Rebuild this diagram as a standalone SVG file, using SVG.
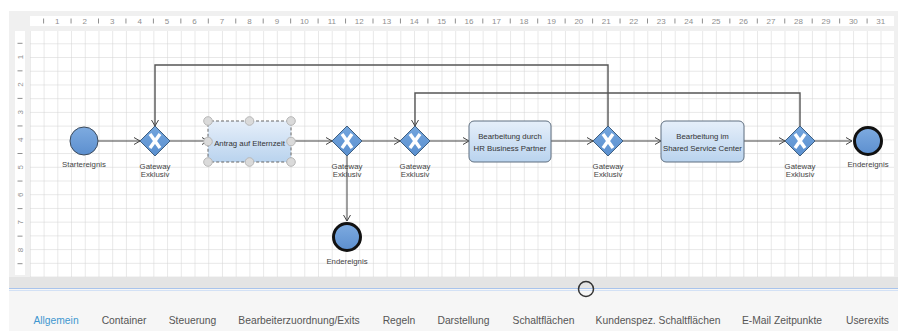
<svg xmlns="http://www.w3.org/2000/svg" width="898" height="331" viewBox="0 0 898 331">
<style>
text{font-family:"Liberation Sans",Arial,sans-serif}
.rl{font-size:8px;fill:#8f8f8f;text-anchor:middle}
.tick{stroke:#8f8f8f;stroke-width:1}
.lbl{font-size:7.8px;fill:#444;text-anchor:middle}
.tk{font-size:7.8px;fill:#333;text-anchor:middle}
.tab{font-size:10.3px;fill:#555;text-anchor:middle}
.flow{fill:none;stroke:#444;stroke-width:1;marker-end:url(#arr)}
.loop{fill:none;stroke:#555;stroke-width:1.4;marker-end:url(#arr)}
.gw{fill:url(#gwg);stroke:#3f5f80;stroke-width:1}
.gx{stroke:#fff;stroke-width:3.4;stroke-linecap:butt}
.task{fill:url(#tg);stroke:#5f6f80;stroke-width:1}
.hd{fill:#dadada;stroke:#b8b8b8;stroke-width:1}
</style>
<defs>
<pattern id="grid" patternUnits="userSpaceOnUse" x="29.88" y="29.58" width="13.72" height="13.72">
<path d="M0,0 V13.72 M0,0 H13.72" stroke="#d2d2d2" stroke-width="1" fill="none"/>
</pattern>
<linearGradient id="cg" x1="0" y1="0" x2="0" y2="1">
<stop offset="0" stop-color="#7eabe0"/><stop offset="1" stop-color="#5c8fcf"/>
</linearGradient>
<linearGradient id="gwg" x1="0" y1="0" x2="0" y2="1">
<stop offset="0" stop-color="#74a6de"/><stop offset="1" stop-color="#5a8fcf"/>
</linearGradient>
<linearGradient id="tg" x1="0" y1="0" x2="0" y2="1">
<stop offset="0" stop-color="#e6effa"/><stop offset="1" stop-color="#b9d3ee"/>
</linearGradient>
<marker id="arr" markerUnits="userSpaceOnUse" markerWidth="9" markerHeight="9" refX="7" refY="4" orient="auto">
<path d="M1,0.5 L7,4 L1,7.5" fill="none" stroke="#444" stroke-width="1"/>
</marker>
</defs>

<!-- frame -->
<rect x="9" y="11" width="889" height="266" fill="#f0f0f0"/>
<rect x="30" y="16" width="864" height="10" fill="#ffffff"/>
<rect x="15" y="31" width="10" height="244" fill="#ffffff"/>
<rect x="30" y="31" width="864" height="246" fill="#ffffff"/>
<rect x="30" y="31" width="864" height="246" fill="url(#grid)"/>
<rect x="9" y="277" width="889" height="11" fill="#e4e4e4"/>
<rect x="9" y="288" width="889" height="43" fill="#f6f6f6"/>
<line x1="9" y1="288.5" x2="898" y2="288.5" stroke="#a9c4ec" stroke-width="1"/>
<line x1="9" y1="290.5" x2="898" y2="290.5" stroke="#d3e1f5" stroke-width="1"/>
<circle cx="586" cy="289" r="7.5" fill="none" stroke="#333" stroke-width="1.5"/>

<!-- top ruler -->
<g id="ruler-top">
<path class="tick" d="M43.6,18.5v5 M71.05,18.5v5 M98.5,18.5v5 M125.95,18.5v5 M153.4,18.5v5 M180.85,18.5v5 M208.3,18.5v5 M235.75,18.5v5 M263.2,18.5v5 M290.65,18.5v5 M318.1,18.5v5 M345.55,18.5v5 M373,18.5v5 M400.45,18.5v5 M427.9,18.5v5 M455.35,18.5v5 M482.8,18.5v5 M510.25,18.5v5 M537.7,18.5v5 M565.15,18.5v5 M592.6,18.5v5 M620.05,18.5v5 M647.5,18.5v5 M674.95,18.5v5 M702.4,18.5v5 M729.85,18.5v5 M757.3,18.5v5 M784.75,18.5v5 M812.2,18.5v5 M839.65,18.5v5 M867.1,18.5v5"/>
<text class="rl" x="57.3" y="23.8">1</text><text class="rl" x="84.75" y="23.8">2</text><text class="rl" x="112.2" y="23.8">3</text><text class="rl" x="139.65" y="23.8">4</text><text class="rl" x="167.1" y="23.8">5</text><text class="rl" x="194.55" y="23.8">6</text><text class="rl" x="222" y="23.8">7</text><text class="rl" x="249.45" y="23.8">8</text><text class="rl" x="276.9" y="23.8">9</text><text class="rl" x="304.35" y="23.8">10</text><text class="rl" x="331.8" y="23.8">11</text><text class="rl" x="359.25" y="23.8">12</text><text class="rl" x="386.7" y="23.8">13</text><text class="rl" x="414.15" y="23.8">14</text><text class="rl" x="441.6" y="23.8">15</text><text class="rl" x="469.05" y="23.8">16</text><text class="rl" x="496.5" y="23.8">17</text><text class="rl" x="523.95" y="23.8">18</text><text class="rl" x="551.4" y="23.8">19</text><text class="rl" x="578.85" y="23.8">20</text><text class="rl" x="606.3" y="23.8">21</text><text class="rl" x="633.75" y="23.8">22</text><text class="rl" x="661.2" y="23.8">23</text><text class="rl" x="688.65" y="23.8">24</text><text class="rl" x="716.1" y="23.8">25</text><text class="rl" x="743.55" y="23.8">26</text><text class="rl" x="771" y="23.8">27</text><text class="rl" x="798.45" y="23.8">28</text><text class="rl" x="825.9" y="23.8">29</text><text class="rl" x="853.35" y="23.8">30</text><text class="rl" x="880.8" y="23.8">31</text>
</g>

<!-- left ruler -->
<g id="ruler-left">
<path class="tick" d="M17.5,43.3h5 M17.5,70.85h5 M17.5,98.4h5 M17.5,125.95h5 M17.5,153.5h5 M17.5,181.05h5 M17.5,208.6h5 M17.5,236.15h5 M17.5,263.7h5"/>
<text class="rl" transform="translate(22.8,57.1) rotate(-90)">1</text>
<text class="rl" transform="translate(22.8,84.65) rotate(-90)">2</text>
<text class="rl" transform="translate(22.8,112.2) rotate(-90)">3</text>
<text class="rl" transform="translate(22.8,139.75) rotate(-90)">4</text>
<text class="rl" transform="translate(22.8,167.3) rotate(-90)">5</text>
<text class="rl" transform="translate(22.8,194.85) rotate(-90)">6</text>
<text class="rl" transform="translate(22.8,222.4) rotate(-90)">7</text>
<text class="rl" transform="translate(22.8,249.95) rotate(-90)">8</text>
</g>

<!-- connectors -->
<g id="connectors">
<path class="loop" d="M608,126 V65 H155 V126"/>
<path class="loop" d="M800,126 V93 H415 V126"/>
<path class="flow" d="M98,141 H140"/>
<path class="flow" d="M170,141 H208"/>
<path class="flow" d="M291,141 H332"/>
<path class="flow" d="M362,141 H400"/>
<path class="flow" d="M430,141 H469"/>
<path class="flow" d="M551,141 H593"/>
<path class="flow" d="M623,141 H661"/>
<path class="flow" d="M744,141 H785"/>
<path class="flow" d="M815,141 H852"/>
<path class="flow" d="M347,156 V221"/>
</g>

<!-- nodes -->
<g id="start">
<circle cx="84" cy="141" r="14" fill="url(#cg)" stroke="#3d4a5a" stroke-width="1"/>
<text class="lbl" x="84" y="167">Startereignis</text>
</g>

<g id="gw1">
<path class="gw" d="M155,126 L170,141 L155,156 L140,141 Z"/>
<path class="gx" d="M150,134 L160,148 M160,134 L150,148"/>
<text class="lbl" x="155" y="168.6">Gateway</text><text class="lbl" x="155" y="177">Exklusiv</text>
</g>

<g id="task1">
<rect x="208" y="121" width="83" height="41" rx="3" fill="url(#tg)" stroke="#666" stroke-width="1" stroke-dasharray="3,2"/>
<text class="tk" x="249.5" y="145.5">Antrag auf Elternzeit</text>
<circle class="hd" cx="208" cy="121" r="4.3"/><circle class="hd" cx="249.5" cy="121" r="4.3"/><circle class="hd" cx="291" cy="121" r="4.3"/>
<circle class="hd" cx="208" cy="141.5" r="4.3"/><circle class="hd" cx="291" cy="141.5" r="4.3"/>
<circle class="hd" cx="208" cy="162" r="4.3"/><circle class="hd" cx="249.5" cy="162" r="4.3"/><circle class="hd" cx="291" cy="162" r="4.3"/>
</g>

<g id="gw2">
<path class="gw" d="M347,126 L362,141 L347,156 L332,141 Z"/>
<path class="gx" d="M342,134 L352,148 M352,134 L342,148"/>
<text class="lbl" x="347" y="168.6">Gateway</text><text class="lbl" x="347" y="177">Exklusiv</text>
</g>

<g id="end2">
<circle cx="347" cy="237" r="13.5" fill="url(#cg)" stroke="#111" stroke-width="3"/>
<text class="lbl" x="347" y="264">Endereignis</text>
</g>

<g id="gw3">
<path class="gw" d="M415,126 L430,141 L415,156 L400,141 Z"/>
<path class="gx" d="M410,134 L420,148 M420,134 L410,148"/>
<text class="lbl" x="415" y="168.6">Gateway</text><text class="lbl" x="415" y="177">Exklusiv</text>
</g>

<g id="task2">
<rect class="task" x="469" y="121" width="82" height="41" rx="5"/>
<text class="tk" x="510" y="138.5">Bearbeitung durch</text>
<text class="tk" x="510" y="151">HR Business Partner</text>
</g>

<g id="gw4">
<path class="gw" d="M608,126 L623,141 L608,156 L593,141 Z"/>
<path class="gx" d="M603,134 L613,148 M613,134 L603,148"/>
<text class="lbl" x="608" y="168.6">Gateway</text><text class="lbl" x="608" y="177">Exklusiv</text>
</g>

<g id="task3">
<rect class="task" x="661" y="121" width="83" height="41" rx="5"/>
<text class="tk" x="702.5" y="138.5">Bearbeitung im</text>
<text class="tk" x="702.5" y="151">Shared Service Center</text>
</g>

<g id="gw5">
<path class="gw" d="M800,126 L815,141 L800,156 L785,141 Z"/>
<path class="gx" d="M795,134 L805,148 M805,134 L795,148"/>
<text class="lbl" x="800" y="168.6">Gateway</text><text class="lbl" x="800" y="177">Exklusiv</text>
</g>

<g id="end1">
<circle cx="868" cy="141" r="13.5" fill="url(#cg)" stroke="#111" stroke-width="3"/>
<text class="lbl" x="868" y="167">Endereignis</text>
</g>

<!-- tabs -->
<g id="tabs">
<text class="tab" x="56" y="323.7" style="fill:#3f97d0">Allgemein</text>
<text class="tab" x="124" y="323.7">Container</text>
<text class="tab" x="192.5" y="323.7">Steuerung</text>
<text class="tab" x="299" y="323.7">Bearbeiterzuordnung/Exits</text>
<text class="tab" x="399" y="323.7">Regeln</text>
<text class="tab" x="463.5" y="323.7">Darstellung</text>
<text class="tab" x="543.5" y="323.7">Schaltflächen</text>
<text class="tab" x="658" y="323.7">Kundenspez. Schaltflächen</text>
<text class="tab" x="782" y="323.7">E-Mail Zeitpunkte</text>
<text class="tab" x="867.5" y="323.7">Userexits</text>
</g>
</svg>
